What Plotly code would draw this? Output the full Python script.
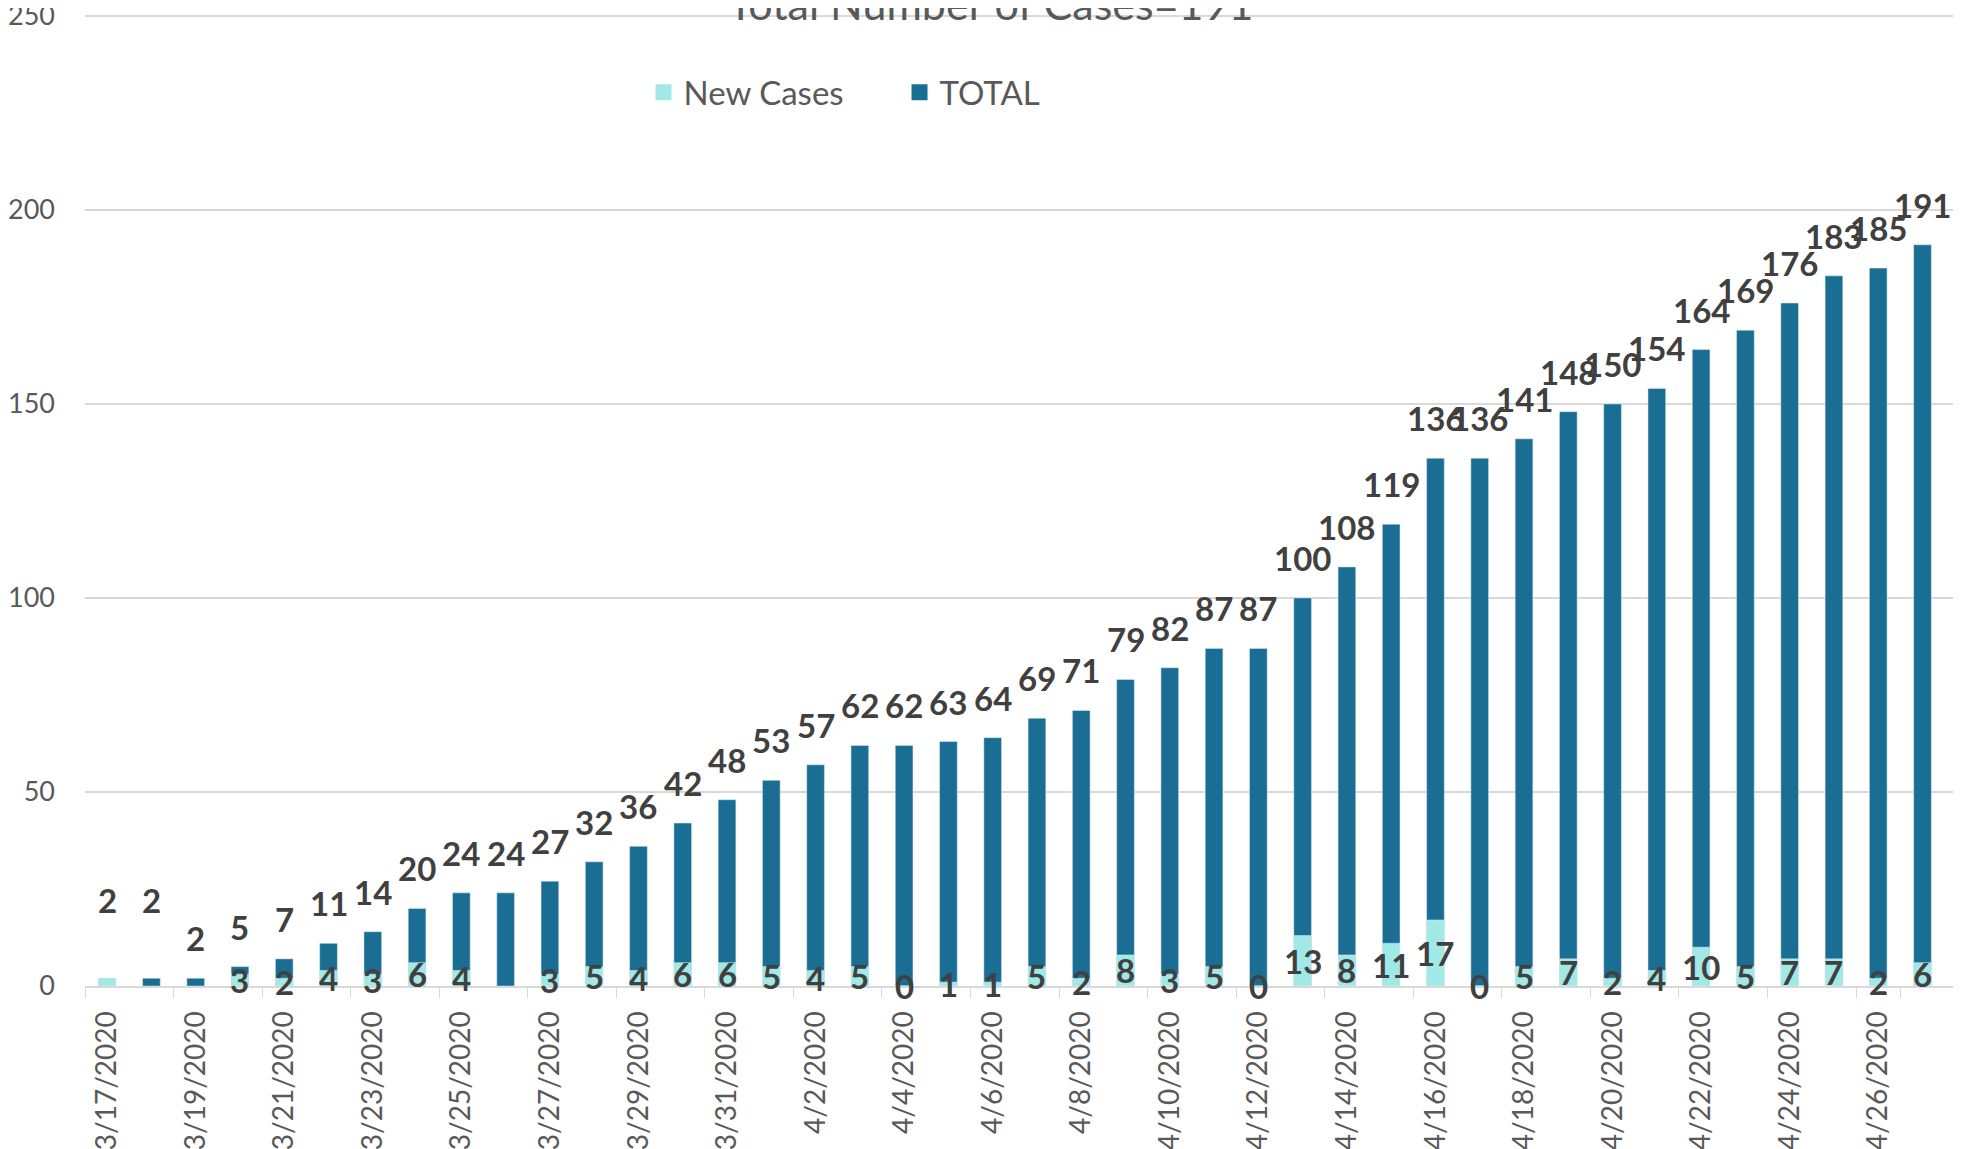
import plotly.graph_objects as go

dates = ["3/17/2020", "3/18/2020", "3/19/2020", "3/20/2020", "3/21/2020", "3/22/2020",
         "3/23/2020", "3/24/2020", "3/25/2020", "3/26/2020", "3/27/2020", "3/28/2020",
         "3/29/2020", "3/30/2020", "3/31/2020", "4/1/2020", "4/2/2020", "4/3/2020",
         "4/4/2020", "4/5/2020", "4/6/2020", "4/7/2020", "4/8/2020", "4/9/2020",
         "4/10/2020", "4/11/2020", "4/12/2020", "4/13/2020", "4/14/2020", "4/15/2020",
         "4/16/2020", "4/17/2020", "4/18/2020", "4/19/2020", "4/20/2020", "4/21/2020",
         "4/22/2020", "4/23/2020", "4/24/2020", "4/25/2020", "4/26/2020", "4/27/2020"]

new_cases = [2, None, None, 3, 2, 4, 3, 6, 4, None, 3, 5, 4, 6, 6, 5, 4, 5, 0, 1, 1,
             5, 2, 8, 3, 5, 0, 13, 8, 11, 17, 0, 5, 7, 2, 4, 10, 5, 7, 7, 2, 6]

total = [2, 2, 2, 5, 7, 11, 14, 20, 24, 24, 27, 32, 36, 42, 48, 53, 57, 62, 62, 63, 64,
         69, 71, 79, 82, 87, 87, 100, 108, 119, 136, 136, 141, 148, 150, 154, 164, 169,
         176, 183, 185, 191]

title_text = "Total Number of Cases=191"
y_ticks = [0, 50, 100, 150, 200, 250]

FONT = "Lato, 'Open Sans', sans-serif"
LABEL_COLOR = "#404040"
AXIS_TEXT = "#595959"
GRID = "#D9D9D9"
C_NEW = "#A0E9E6"
C_TOTAL = "#1B6E93"

fig = go.Figure()
fig.add_trace(go.Bar(x=dates, y=total, name="TOTAL", marker_color=C_TOTAL,
                     width=0.4, showlegend=False))
fig.add_trace(go.Bar(x=dates, y=new_cases, name="New Cases", marker_color=C_NEW,
                     width=0.4, showlegend=False))
# legend entries with larger square swatches (as in the source chart)
fig.add_trace(go.Scatter(x=[None], y=[None], mode="markers", name="New Cases",
                         marker=dict(symbol="square", size=21, color=C_NEW)))
fig.add_trace(go.Scatter(x=[None], y=[None], mode="markers", name="TOTAL",
                         marker=dict(symbol="square", size=21, color=C_TOTAL)))

label_font = dict(family=FONT, size=33, color=LABEL_COLOR, weight="bold")
# data labels for totals (first two nudged higher, as in the source chart)
for i, (d, t) in enumerate(zip(dates, total)):
    lift = 78 if i < 2 else 40
    fig.add_annotation(x=d, y=t, text=str(t), showarrow=False, yshift=lift,
                       yanchor="middle", font=label_font)
# data labels for new cases, centered on the bar
# (on the first day the new-case label coincides with the total label above)
for i, (d, n) in enumerate(zip(dates, new_cases)):
    if n is None or i == 0:
        continue
    fig.add_annotation(x=d, y=n / 2, text=str(n), showarrow=False,
                       yanchor="middle", font=label_font)

fig.add_annotation(xref="paper", yref="paper", x=0.485, y=1.0, yshift=8.5,
                   text=title_text, showarrow=False, yanchor="middle",
                   font=dict(family=FONT, size=43, color=AXIS_TEXT))

# the page body has an 8px default margin, so the figure is sized to fill the rest
fig.update_layout(
    width=1965, height=1141,
    margin=dict(l=77, r=20, t=4, b=163),
    barmode="overlay",
    paper_bgcolor="white", plot_bgcolor="white",
    font=dict(family=FONT, color=AXIS_TEXT),
    showlegend=True,
    legend=dict(orientation="h", x=0.299, xanchor="left", y=0.9176, yanchor="middle",
                entrywidth=211, itemwidth=30,
                font=dict(family=FONT, size=33, color=AXIS_TEXT), bgcolor="rgba(0,0,0,0)"),
    xaxis=dict(type="category", tickmode="array", tickvals=dates[::2], ticktext=dates[::2],
               tickangle=-90, tickson="boundaries", ticks="outside", ticklen=10,
               tickcolor=GRID, showline=True, linecolor=GRID, linewidth=2,
               showgrid=False, automargin=False, ticklabelstandoff=12,
               tickfont=dict(family=FONT, size=28, color=AXIS_TEXT)),
    yaxis=dict(range=[0, 251], tickvals=y_ticks, showgrid=True, gridcolor=GRID,
               gridwidth=2, zeroline=False, showline=False, ticks="",
               ticklabelstandoff=29, automargin=False, ticklabeloverflow="allow",
               tickfont=dict(family=FONT, size=27, color=AXIS_TEXT)),
)

fig.write_html("out.html")
